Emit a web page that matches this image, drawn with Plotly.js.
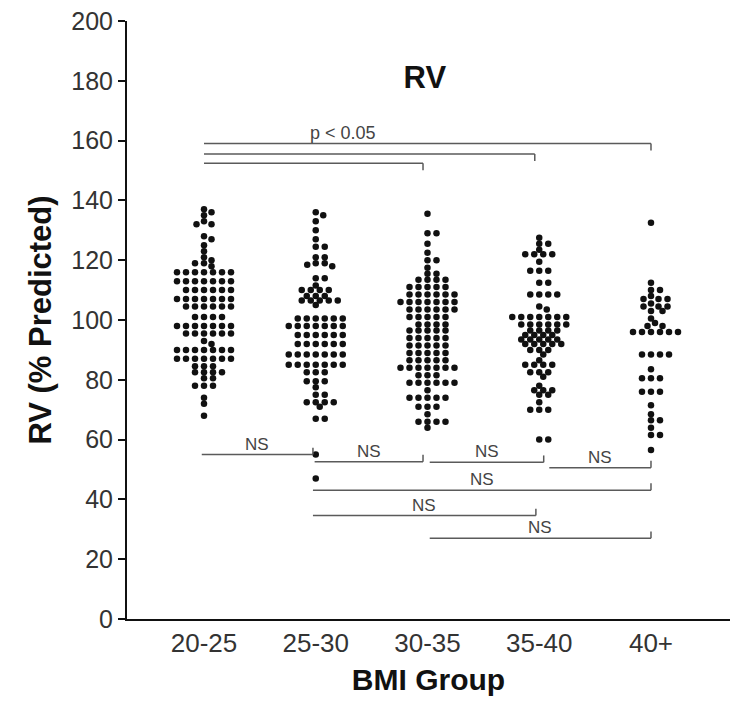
<!DOCTYPE html>
<html>
<head>
<meta charset="utf-8">
<script src="https://cdn.plot.ly/plotly-3.0.1.min.js"></script>
<style>html,body{margin:0;padding:0;background:#fff;}#chart{width:743px;height:707px;}</style>
</head>
<body>
<div id="chart"></div>
<script>
// ---- Data (RV % predicted) ----
const categories = ["20-25", "25-30", "30-35", "35-40", "40+"];

const rv_20_25 = [137,136,135,133,132,132,128,127,125,123,121,120,119,119,118,
  116,116,116,116,116,116,116,113,113,113,113,113,113,113,110,110,110,110,110,110,
  107,107,107,107,107,107,107,104.5,104.5,104.5,104.5,104.5,104.5,101,101,101,101,
  98,98,98,98,98,98,98,95.5,95.5,95.5,95.5,95.5,95.5,93,92,
  90,90,90,90,90,90,90,87,87,87,87,87,87,87,84.5,84.5,84.5,82.5,82.5,82.5,82.5,
  80.5,80.5,78,78,78,74,72,68];

const rv_25_30 = [136,135,133,130,127,124.5,124.5,121,121,119,119,118.5,118,114,114,111.5,
  110,110,110,110,108,108,108,106.5,106.5,106.5,106.5,106.5,105,
  100.5,100.5,100.5,100.5,100.5,100.5,98,98,98,98,98,98,98,95,95,95,95,95,95,
  92,92,92,92,92,92,88.5,88.5,88.5,88.5,88.5,88.5,88.5,85,85,85,85,85,85,85,
  82.5,82.5,82.5,79.5,79.5,79.5,77.5,75,75,72.5,72.5,72.5,72.5,71,67,67,55,47];

const rv_30_35 = [135.5,129,129,125.5,122.5,120,120,117.5,115.5,115.5,113.5,113.5,113.5,113.5,
  111,111,111,111,111,108.5,108.5,108.5,108.5,108.5,108.5,106,106,106,106,106,106,106,
  103.5,103.5,103.5,103.5,103.5,103.5,101,101,101,101,101,98.5,98.5,98.5,98.5,
  96.5,96.5,96.5,96.5,96.5,94,94,94,94,94,91.5,91.5,91.5,91.5,91.5,89,89,89,89,89,
  86.5,86.5,86.5,86.5,86.5,84,84,84,84,84,84,84,81.5,81.5,81.5,
  79,79,79,79,79,79,76.5,74,74,74,74,74,71,71,71,68.5,66,66,66,66,64];

const rv_35_40 = [127.5,125.5,125.5,123.5,122,122,122,122,119.5,116.5,116.5,116.5,112.5,112.5,
  108.5,108.5,108.5,108.5,104.5,103.5,101,101,101,101,101,101,101,98.5,98.5,98.5,98.5,98.5,98.5,
  96.5,96.5,96.5,96.5,95,95,95,95,93.5,93.5,93.5,93.5,93.5,92,92,92,92,92,90,90,90,
  88.5,86.5,85,85,85,85,82.5,82.5,82.5,81,78,76.5,76.5,76.5,75,75,72.5,70,70,70,60,60];

const rv_40_plus = [132.5,112.5,110,110,108,107,107,107,105.5,104.5,104.5,104.5,103,103,
  100.5,99,98,98,96,96,96,96,96,96,88.5,88.5,88.5,88.5,83.5,80.5,80.5,80.5,
  76,76,76,71.5,68.5,66.5,66.5,64,61.5,61.5,56.5];

const groups = [rv_20_25, rv_25_30, rv_30_35, rv_35_40, rv_40_plus];

// Statistical comparisons (group index pairs) and their labels
const compFrom  = [0, 0, 0, 0, 1, 2, 3, 1, 1, 2];
const compTo    = [4, 3, 2, 1, 2, 3, 4, 4, 3, 4];
const compLabel = ["p < 0.05", "", "", "NS", "NS", "NS", "NS", "NS", "NS", "NS"];

// ---- Geometry / style (not data) ----
const W = 743, H = 707;
const M = {l: 127, r: 13, t: 21, b: 88};
const xRange = [-0.689, 4.707];
const yRange = [0, 200];
const pxPerX = (W - M.l - M.r) / (xRange[1] - xRange[0]);
const pxPerY = (H - M.t - M.b) / (yRange[1] - yRange[0]);

// bracket drawing settings: [x start, x end, y level, tick direction, label x]
const bracketGeom = [
  [0.0, 4.0, 159.0, -1, 1.24],
  [0.0, 2.96, 155.5, -1, null],
  [0.0, 1.96, 152.4, -1, null],
  [-0.02, 0.975, 55.0, 1, null],
  [0.99, 1.96, 52.6, 1, null],
  [2.02, 3.04, 52.4, 1, null],
  [3.09, 4.0, 50.6, 1, null],
  [0.975, 4.0, 43.1, 1, null],
  [0.975, 2.97, 34.6, 1, null],
  [2.02, 4.0, 27.0, 1, null]
];

// simple beeswarm: place points (sorted by value) at the horizontal offset
// closest to the centre that does not overlap earlier points (elliptical spacing)
function swarmOffsets(vals, DX, DY) {
  const order = vals.map((v, i) => i).sort((a, b) => vals[b] - vals[a]);
  const placed = [];
  const offs = new Array(vals.length).fill(0);
  for (const i of order) {
    const py = vals[i] * pxPerY;
    let chosen = 0;
    for (let k = 0; k < 2000; k++) {
      const c = (k % 2 === 1 ? 1 : -1) * Math.ceil(k / 2) * 0.5;
      let ok = true;
      for (const p of placed) {
        const dx = (p.x - c) / DX, dy = (p.y - py) / DY;
        if (dx * dx + dy * dy < 1) { ok = false; break; }
      }
      if (ok) { chosen = c; break; }
    }
    placed.push({x: chosen, y: py});
    offs[i] = chosen / pxPerX;
  }
  return offs;
}

const traces = groups.map((vals, g) => {
  const offs = swarmOffsets(vals, 8.8, 5.0);
  return {
    type: 'scatter', mode: 'markers',
    name: categories[g],
    x: vals.map((v, i) => g + offs[i]),
    y: vals,
    marker: {size: 6.5, color: '#111', line: {width: 0}},
    hoverinfo: 'y', showlegend: false, cliponaxis: false
  };
});

const shapes = [];
const annotations = [];
const lineStyle = {color: '#5a5a5a', width: 1.5};
bracketGeom.forEach((b, k) => {
  const [x0, x1, y, dir, lx] = b;
  shapes.push({type: 'line', xref: 'x', yref: 'y', x0: x0, x1: x1, y0: y, y1: y, line: lineStyle});
  shapes.push({type: 'line', xref: 'x', yref: 'y', x0: x1, x1: x1, y0: y, y1: y + dir * 2.3, line: lineStyle});
  if (compLabel[k]) {
    annotations.push({
      xref: 'x', yref: 'y', x: lx !== null ? lx : (x0 + x1) / 2, y: y,
      text: compLabel[k], showarrow: false, yanchor: 'bottom', yshift: -1,
      font: {family: 'Liberation Sans, Arial, sans-serif', size: compLabel[k] === 'NS' ? 17 : 18, color: '#444'}
    });
  }
});

const layout = {
  width: W, height: H,
  margin: M,
  paper_bgcolor: '#fff', plot_bgcolor: '#fff',
  font: {family: 'Liberation Sans, Arial, sans-serif', color: '#333'},
  title: {
    text: '<b>RV</b>', xref: 'paper', yref: 'container',
    x: 0.494, y: 1 - 77 / H, xanchor: 'center', yanchor: 'middle',
    font: {size: 31, color: '#111', family: 'Liberation Sans, Arial, sans-serif'}
  },
  xaxis: {
    range: xRange, showgrid: false, zeroline: false,
    showline: true, linecolor: '#111', linewidth: 2,
    tickmode: 'array', tickvals: [0, 1, 2, 3, 4], ticktext: categories,
    ticks: '', tickfont: {size: 26, color: '#333'},
    ticklabelstandoff: 0,
    title: {text: '<b>BMI Group</b>', font: {size: 30, color: '#111'}, standoff: 12}
  },
  yaxis: {
    range: yRange, showgrid: false, zeroline: false,
    showline: true, linecolor: '#111', linewidth: 2,
    tickmode: 'linear', tick0: 0, dtick: 20,
    ticks: 'outside', ticklen: 7, tickwidth: 2, tickcolor: '#111',
    tickfont: {size: 25, color: '#333'},
    title: {text: '<b>RV (% Predicted)</b>', font: {size: 31, color: '#111'}, standoff: 10}
  },
  shapes: shapes,
  annotations: annotations
};

Plotly.newPlot('chart', traces, layout, {displayModeBar: false, staticPlot: true});
</script>
</body>
</html>
